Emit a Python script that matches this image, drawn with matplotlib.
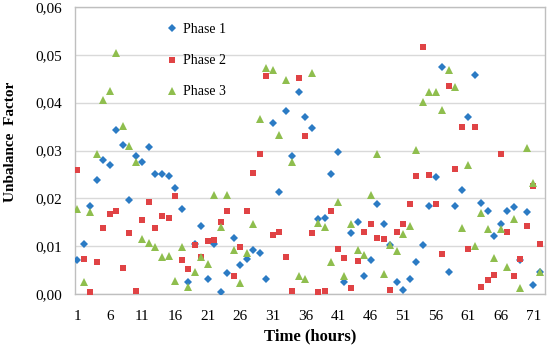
import numpy as np
import matplotlib
matplotlib.use("Agg")
import matplotlib.pyplot as plt
from matplotlib.ticker import FuncFormatter, MultipleLocator

hours = list(range(1, 73))

phase1 = [0.0071, 0.0105, 0.0183, 0.0239, 0.0281, 0.0269, 0.0343, 0.0311, 0.0196, 0.0288,
          0.0276, 0.0308, 0.0250, 0.0250, 0.0247, 0.0222, 0.0177, 0.0026, 0.0104, 0.0143,
          0.0031, 0.0105, 0.0004, 0.0043, 0.0117, 0.0061, 0.0073, 0.0093, 0.0085, 0.0031,
          0.0357, 0.0213, 0.0382, 0.0289, 0.0423, 0.0370, 0.0348, 0.0157, 0.0159, 0.0250,
          0.0296, 0.0026, 0.0128, 0.0150, 0.0037, 0.0071, 0.0188, 0.0147, 0.0103, 0.0026,
          0.0009, 0.0032, 0.0066, 0.0102, 0.0183, 0.0245, 0.0474, 0.0047, 0.0183, 0.0217,
          0.0371, 0.0457, 0.0191, 0.0174, 0.0122, 0.0147, 0.0174, 0.0181, 0.0072, 0.0172,
          0.0019, 0.0046]

phase2 = [0.0259, 0.0073, 0.0004, 0.0066, 0.0137, 0.0168, 0.0173, 0.0054, 0.0127, 0.0007,
          0.0154, 0.0193, 0.0139, 0.0164, 0.0159, 0.0205, 0.0071, 0.0052, 0.0102, 0.0078,
          0.0110, 0.0112, 0.0150, 0.0173, 0.0037, 0.0098, 0.0173, 0.0252, 0.0293, 0.0455,
          0.0124, 0.0130, 0.0078, 0.0007, 0.0452, 0.0330, 0.0128, 0.0004, 0.0007, 0.0174,
          0.0095, 0.0076, 0.0012, 0.0068, 0.0130, 0.0146, 0.0118, 0.0114, 0.0009, 0.0130,
          0.0146, 0.0188, 0.0247, 0.0516, 0.0249, 0.0188, 0.0083, 0.0435, 0.0262, 0.0350,
          0.0095, 0.0350, 0.0014, 0.0030, 0.0039, 0.0293, 0.0130, 0.0037, 0.0073, 0.0143,
          0.0225, 0.0105]

phase3 = [0.0178, 0.0026, 0.0172, 0.0292, 0.0406, 0.0425, 0.0503, 0.0351, 0.0310, 0.0276,
          0.0114, 0.0107, 0.0099, 0.0078, 0.0080, 0.0028, 0.0098, 0.0014, 0.0045, 0.0078,
          0.0063, 0.0206, 0.0141, 0.0208, 0.0093, 0.0024, 0.0085, 0.0147, 0.0366, 0.0472,
          0.0468, 0.0333, 0.0448, 0.0276, 0.0037, 0.0032, 0.0462, 0.0148, 0.0141, 0.0066,
          0.0193, 0.0037, 0.0147, 0.0093, 0.0081, 0.0206, 0.0293, 0.0041, 0.0103, 0.0090,
          0.0126, 0.0143, 0.0301, 0.0401, 0.0422, 0.0422, 0.0385, 0.0469, 0.0432, 0.0139,
          0.0269, 0.0100, 0.0169, 0.0135, 0.0076, 0.0135, 0.0056, 0.0157, 0.0012, 0.0306,
          0.0232, 0.0046]

plt.rcParams['font.family'] = ['Liberation Serif', 'DejaVu Serif']

fig = plt.figure(figsize=(5.5, 3.47), dpi=100)
ax = fig.add_axes([75/550, 1 - 294/347, 470/550, 287/347])

ax.plot(hours, phase1, 'D', color='#2b7bc4', ms=3.8, mew=0, label='Phase 1', zorder=3)
ax.plot(hours, phase2, 's', color='#e04345', ms=4.4, mew=0, label='Phase 2', zorder=3)
ax.plot(hours, phase3, '^', color='#8fbe4e', ms=5.2, mew=0, label='Phase 3', zorder=3)

ax.set_xlim(0.65, 72.77)
ax.set_ylim(0, 0.06)
ax.set_xticks(range(1, 72, 5))
ax.yaxis.set_major_locator(MultipleLocator(0.01))
ax.yaxis.set_major_formatter(FuncFormatter(lambda v, p: f"{v:.2f}".replace('.', ',')))
ax.tick_params(length=0, labelsize=11)
ax.tick_params(axis='y', pad=9.5)
ax.tick_params(axis='x', pad=11.5)
ax.grid(axis='y', color='#d9d9d9', lw=1)
ax.set_axisbelow(True)
for s in ax.spines.values():
    s.set_color('#bfbfbf')
    s.set_linewidth(1)

ax.legend(loc='upper left', bbox_to_anchor=(0.194, 0.943), frameon=False, fontsize=10,
          labelspacing=1.3, handlelength=0.8, handletextpad=0.4, borderpad=0,
          borderaxespad=0)

fig.text(310/550, 1 - 336/347, 'Time (hours)', ha='center', va='center',
         fontsize=12, fontweight='bold')
fig.text(11/550, 1 - 142/347, 'Unbalance  Factor', ha='center', va='center',
         rotation=90, fontsize=11, fontweight='bold')

fig.savefig('out.png', dpi=100)
